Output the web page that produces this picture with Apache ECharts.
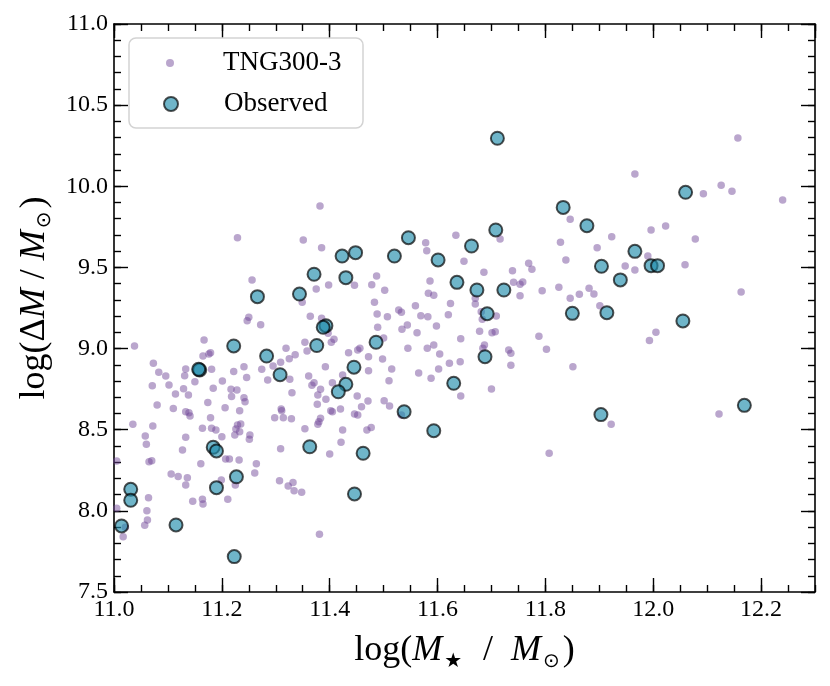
<!DOCTYPE html>
<html>
<head>
<meta charset="utf-8">
<script src="https://cdn.jsdelivr.net/npm/echarts@6/dist/echarts.min.js"></script>
<style>
  html, body { margin: 0; padding: 0; background: #fff; }
  #chart { width: 830px; height: 686px; }
</style>
</head>
<body>
<div id="chart"></div>
<script>
// TNG300-3 simulated galaxies, log stellar mass / log mass difference
var tngX = [
  11.382, 11.229, 11.351, 11.385, 11.256, 11.398, 11.375, 11.349, 11.364, 11.250,
  11.247, 11.272, 11.385, 11.167, 11.038, 11.408, 11.403, 11.354, 11.319, 11.397,
  11.165, 11.176, 11.179, 11.073, 11.083, 11.096, 11.133, 11.131, 11.181, 11.222,
  11.241, 11.246, 11.201, 11.150, 11.071, 11.102, 11.129, 11.184, 11.217, 11.228,
  11.114, 11.138, 11.218, 11.241, 11.243, 11.174, 11.080, 11.206, 11.233, 11.110,
  11.133, 11.139, 11.141, 11.179, 11.229, 11.235, 11.226, 11.233, 11.035, 11.072,
  11.164, 11.181, 11.189, 11.224, 11.058, 11.133, 11.200, 11.252, 11.251, 11.060,
  11.127, 11.207, 11.214, 11.232, 11.264, 11.065, 11.070, 11.161, 11.005, 11.106,
  11.119, 11.136, 11.133, 11.261, 11.199, 11.225, 11.064, 11.146, 11.164, 11.165,
  11.211, 11.005, 11.061, 11.062, 11.057, 11.021, 11.017, 11.381,
  11.274, 11.295, 11.309, 11.336, 11.325, 11.358, 11.392, 11.424, 11.285, 11.326,
  11.361, 11.371, 11.367, 11.383, 11.405, 11.330, 11.378, 11.393, 11.377, 11.310,
  11.311, 11.298, 11.314, 11.329, 11.402, 11.405, 11.420, 11.383, 11.380, 11.378,
  11.354, 11.424, 11.421, 11.309, 11.400, 11.307, 11.323, 11.332, 11.334, 11.348,
  11.634, 11.578, 11.580, 11.716, 11.846, 11.828, 11.838, 11.649, 11.769, 11.775,
  11.739, 11.686, 11.487, 11.446, 11.478, 11.502, 11.586, 11.741, 11.753, 11.758,
  11.794, 11.825, 11.583, 11.593, 11.753, 11.670, 11.670, 11.863, 11.846, 11.483,
  11.624, 11.559, 11.488, 11.507, 11.528, 11.533, 11.569, 11.582, 11.620, 11.681,
  11.683, 11.709, 11.489, 11.544, 11.534, 11.598, 11.562, 11.678, 11.701, 11.707,
  11.500, 11.643, 11.788, 11.456, 11.545, 11.581, 11.593, 11.687, 11.684, 11.732,
  11.802,
  11.435, 11.452, 11.472, 11.498, 11.604, 11.736, 11.472, 11.515, 11.565, 11.602,
  11.622, 11.642, 11.736, 11.851, 11.510, 11.588, 11.700, 11.643, 11.451, 11.471,
  11.501, 11.511, 11.459, 11.446, 11.452, 11.533, 11.469, 11.477, 11.807,
  12.157, 11.966, 12.126, 12.146, 12.093, 12.240, 12.023, 11.996, 11.923, 12.078,
  11.896, 11.990, 11.948, 11.966, 12.059, 12.163, 11.881, 11.890, 11.901, 12.005,
  11.993, 11.922, 12.122
];
var tngY = [
  9.879, 9.683, 9.669, 9.622, 9.423, 9.392, 9.367, 9.285, 9.199, 9.193,
  9.172, 9.147, 9.187, 9.053, 9.016, 9.057, 9.039, 9.039, 9.002, 9.094,
  8.954, 8.967, 8.975, 8.909, 8.854, 8.831, 8.874, 8.833, 8.872, 8.858,
  8.888, 8.821, 8.800, 8.796, 8.771, 8.776, 8.753, 8.755, 8.749, 8.745,
  8.720, 8.714, 8.704, 8.697, 8.673, 8.667, 8.652, 8.636, 8.617, 8.630,
  8.611, 8.605, 8.585, 8.574, 8.529, 8.535, 8.504, 8.488, 8.533, 8.523,
  8.509, 8.509, 8.498, 8.468, 8.461, 8.453, 8.457, 8.468, 8.441, 8.410,
  8.375, 8.320, 8.320, 8.313, 8.291, 8.303, 8.309, 8.291, 8.307, 8.227,
  8.211, 8.204, 8.159, 8.233, 8.190, 8.159, 8.081, 8.059, 8.071, 8.042,
  8.071, 8.016, 8.001, 7.944, 7.911, 7.899, 7.841, 7.856,
  8.872, 8.893, 8.916, 8.962, 8.938, 8.985, 8.888, 8.837, 8.806, 8.811,
  8.831, 8.790, 8.774, 8.749, 8.790, 8.728, 8.714, 8.687, 8.657, 8.628,
  8.617, 8.574, 8.574, 8.568, 8.617, 8.611, 8.628, 8.570, 8.549, 8.533,
  8.506, 8.498, 8.423, 8.383, 8.350, 8.186, 8.153, 8.174, 8.124, 8.114,
  9.698, 9.652, 9.603, 9.675, 9.797, 9.655, 9.546, 9.538, 9.525, 9.489,
  9.480, 9.470, 9.447, 9.390, 9.394, 9.359, 9.416, 9.408, 9.396, 9.410,
  9.357, 9.378, 9.341, 9.328, 9.326, 9.310, 9.275, 9.334, 9.310, 9.285,
  9.277, 9.264, 9.213, 9.196, 9.238, 9.224, 9.203, 9.196, 9.209, 9.227,
  9.180, 9.201, 9.131, 9.145, 9.119, 9.139, 9.098, 9.106, 9.098, 9.104,
  9.065, 9.061, 9.076, 9.002, 9.002, 9.002, 9.022, 9.022, 9.002, 8.991,
  8.996,
  8.975, 8.991, 8.950, 8.936, 8.967, 8.971, 8.864, 8.874, 8.850, 8.874,
  8.909, 8.919, 8.897, 8.888, 8.802, 8.817, 8.751, 8.708, 8.708, 8.677,
  8.679, 8.646, 8.642, 8.597, 8.591, 8.591, 8.498, 8.513, 8.355,
  10.298, 10.076, 10.006, 9.969, 9.954, 9.916, 9.755, 9.731, 9.689, 9.675,
  9.622, 9.570, 9.509, 9.484, 9.517, 9.349, 9.371, 9.336, 9.264, 9.100,
  9.049, 8.533, 8.597
];

// observed galaxies
var obsX = [
  11.711, 11.833, 11.877, 11.708, 11.546, 11.663, 11.423, 11.448, 11.520, 11.601,
  11.430, 11.636, 11.673, 11.723, 11.692, 11.850, 11.486, 11.688, 11.445, 11.430,
  11.416, 11.630, 11.538, 11.593, 11.462, 11.446, 12.060, 11.966, 11.904, 11.996,
  12.008, 11.939, 11.914, 12.055, 11.903, 12.169, 11.371, 11.344, 11.266, 11.393,
  11.388, 11.222, 11.376, 11.283, 11.159, 11.157, 11.308, 11.184, 11.190, 11.363,
  11.227, 11.190, 11.031, 11.031, 11.014, 11.115, 11.223
];
var obsY = [
  10.296, 9.870, 9.757, 9.731, 9.683, 9.632, 9.570, 9.591, 9.570, 9.546,
  9.437, 9.408, 9.361, 9.361, 9.215, 9.217, 9.039, 8.950, 8.885, 8.780,
  8.734, 8.786, 8.611, 8.494, 8.355, 8.104, 9.963, 9.599, 9.507, 9.511,
  9.511, 9.423, 9.221, 9.170, 8.593, 8.650, 9.458, 9.336, 9.320, 9.141,
  9.131, 9.016, 9.019, 8.954, 8.868, 8.872, 8.839, 8.392, 8.369, 8.395,
  8.210, 8.143, 8.133, 8.065, 7.907, 7.913, 7.718
];

var xMin = 11.0, xMax = 12.3, xStep = 0.2, xMinor = 0.05;
var yMin = 7.5, yMax = 11.0, yStep = 0.5, yMinor = 0.1;

var FONT = 'Liberation Serif';

function pairs(xs, ys) {
  var out = [];
  for (var i = 0; i < xs.length; i++) out.push([xs[i], ys[i]]);
  return out;
}

// one axis = either the major ticks (with frame line) or the minor ticks
function xAx(pos, major) {
  return {
    type: 'value', position: pos, min: xMin, max: xMax,
    interval: major ? xStep : xMinor,
    axisLine: { show: major, onZero: false, lineStyle: { color: '#000', width: 1.6 } },
    axisTick: { show: true, inside: true, length: major ? 14 : 7, lineStyle: { color: '#000', width: 1.4 } },
    axisLabel: {
      show: major && pos === 'bottom', margin: 6, showMaxLabel: false,
      fontFamily: FONT, fontSize: 24, color: '#000',
      formatter: function (v) { return v.toFixed(1); }
    },
    splitLine: { show: false }
  };
}
function yAx(pos, major) {
  return {
    type: 'value', position: pos, min: yMin, max: yMax,
    interval: major ? yStep : yMinor,
    axisLine: { show: major, onZero: false, lineStyle: { color: '#000', width: 1.6 } },
    axisTick: { show: true, inside: true, length: major ? 14 : 7, lineStyle: { color: '#000', width: 1.4 } },
    axisLabel: {
      show: major && pos === 'left', margin: 6,
      fontFamily: FONT, fontSize: 24, color: '#000',
      formatter: function (v) { return v.toFixed(1); }
    },
    splitLine: { show: false }
  };
}

var titleRich = {
  a: { fontFamily: FONT, fontSize: 36, color: '#000' },
  i: { fontFamily: FONT, fontSize: 36, fontStyle: 'italic', color: '#000' },
  s: { fontFamily: 'DejaVu Sans', fontSize: 20, color: '#000', padding: [22, 3, 0, 2] }
};

var xAxes = [xAx('bottom', true), xAx('bottom', false), xAx('top', true), xAx('top', false)];
xAxes[0].name = '{a|log(}{i|M}{s|★}{a|  /  }{i|M}{s|⊙}{a|)}';
xAxes[0].nameLocation = 'middle';
xAxes[0].nameGap = 38;
xAxes[0].nameTextStyle = { rich: titleRich };

var yAxes = [yAx('left', true), yAx('left', false), yAx('right', true), yAx('right', false)];
yAxes[0].name = '{a|log(Δ}{i|M}{a| / }{i|M}{s|⊙}{a|)}';
yAxes[0].nameLocation = 'middle';
yAxes[0].nameGap = 58;
yAxes[0].nameTextStyle = { rich: titleRich, padding: [0, 0, 0, 20] };

var chart = echarts.init(document.getElementById('chart'), null, { renderer: 'canvas' });

var option = {
  backgroundColor: '#fff',
  animation: false,
  textStyle: { fontFamily: FONT },
  grid: { left: 114, right: 15, top: 24, bottom: 94 },
  xAxis: xAxes,
  yAxis: yAxes,
  legend: [{
    data: ['TNG300-3'], left: 166, top: 48, padding: 0,
    itemWidth: 8, itemHeight: 8,
    textStyle: { fontFamily: FONT, fontSize: 27, color: '#000', lineHeight: 30, padding: [0, 0, 0, 44] }
  }, {
    data: ['Observed'], left: 163, top: 89, padding: 0,
    itemWidth: 14, itemHeight: 14,
    textStyle: { fontFamily: FONT, fontSize: 27, color: '#000', lineHeight: 30, padding: [0, 0, 0, 41] }
  }],
  graphic: [{
    type: 'rect', z: 3,
    shape: { x: 129, y: 38, width: 234, height: 90, r: 7 },
    style: { fill: 'rgba(255,255,255,0.8)', stroke: '#d3d3d3', lineWidth: 1.5 }
  }],
  series: [{
    name: 'TNG300-3', type: 'scatter', xAxisIndex: 0, yAxisIndex: 0,
    symbolSize: 7.5,
    itemStyle: { color: 'rgba(110,70,150,0.6)' },
    data: pairs(tngX, tngY)
  }, {
    name: 'Observed', type: 'scatter', xAxisIndex: 0, yAxisIndex: 0,
    symbolSize: 13, z: 3,
    itemStyle: { color: 'rgba(30,140,170,0.8)', borderColor: 'rgba(0,0,0,0.85)', borderWidth: 2 },
    data: pairs(obsX, obsY)
  }]
};

chart.setOption(option);
</script>
</body>
</html>
